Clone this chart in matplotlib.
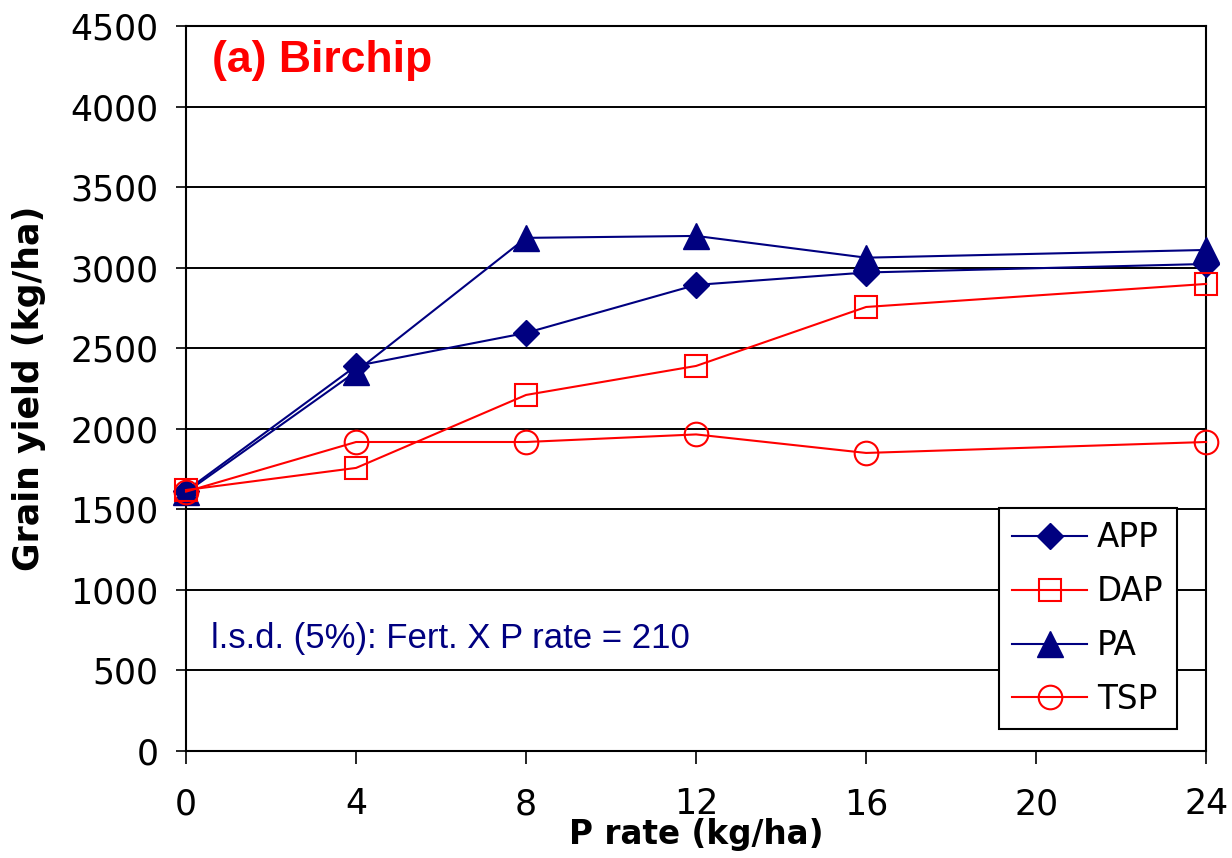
import matplotlib.pyplot as plt

# P rate (kg/ha) and grain yield (kg/ha) for each fertiliser
p_rate = [0, 4, 8, 12, 16, 24]
app = [1615, 2390, 2595, 2893, 2970, 3023]
dap = [1620, 1757, 2210, 2390, 2756, 2899]
pa = [1605, 2355, 3185, 3197, 3062, 3110]
tsp = [1610, 1918, 1918, 1965, 1850, 1918]

navy = '#000080'
red = '#ff0000'

fig = plt.figure(figsize=(12.32, 8.58), dpi=100)
ax = fig.add_axes([0.151, 0.1247, 0.828, 0.845])

ax.plot(p_rate, app, color=navy, lw=1.5, marker='D', ms=13, mfc=navy, mec=navy,
        label='APP', clip_on=False, zorder=3)
ax.plot(p_rate, dap, color=red, lw=1.5, marker='s', ms=16, mfc='none', mec=red, mew=1.5,
        label='DAP', clip_on=False, zorder=5)
ax.plot(p_rate, pa, color=navy, lw=1.5, marker='^', ms=19, mfc=navy, mec=navy,
        label='PA', clip_on=False, zorder=4)
ax.plot(p_rate, tsp, color=red, lw=1.5, marker='o', ms=17, mfc='none', mec=red, mew=1.5,
        label='TSP', clip_on=False, zorder=6)

ax.set_xlim(0, 24)
ax.set_ylim(0, 4500)
ax.set_xticks([0, 4, 8, 12, 16, 20, 24])
ax.set_yticks(range(0, 4501, 500))
ax.yaxis.grid(True, color='black', lw=1.4)
ax.set_axisbelow(True)
for s in ax.spines.values():
    s.set_linewidth(1.5)

ax.tick_params(axis='y', direction='out', length=7, width=1.2, pad=13, labelsize=25)
ax.tick_params(axis='x', direction='out', length=9, width=1.2, pad=17, labelsize=25)

ax.set_xlabel('P rate (kg/ha)', fontsize=23.5, fontweight='bold', labelpad=-2)
ax.set_ylabel('Grain yield (kg/ha)', fontsize=25, fontweight='bold', labelpad=17)

ax.text(0.0255, 0.953, '(a) Birchip', transform=ax.transAxes, color=red,
        fontsize=32, fontweight='bold', family='Liberation Sans', va='center')
ax.text(0.024, 0.155, 'l.s.d. (5%): Fert. X P rate = 210', transform=ax.transAxes,
        color=navy, fontsize=25, family='Liberation Sans', va='center')

leg = ax.legend(loc='upper left', bbox_to_anchor=(0.797, 0.335), fontsize=23.5,
                handlelength=2.3, labelspacing=0.64, borderpad=0.4, borderaxespad=0,
                fancybox=False, framealpha=1, edgecolor='black', handletextpad=0.3)
leg.get_frame().set_linewidth(1.5)

fig.savefig('out.png', dpi=100)
